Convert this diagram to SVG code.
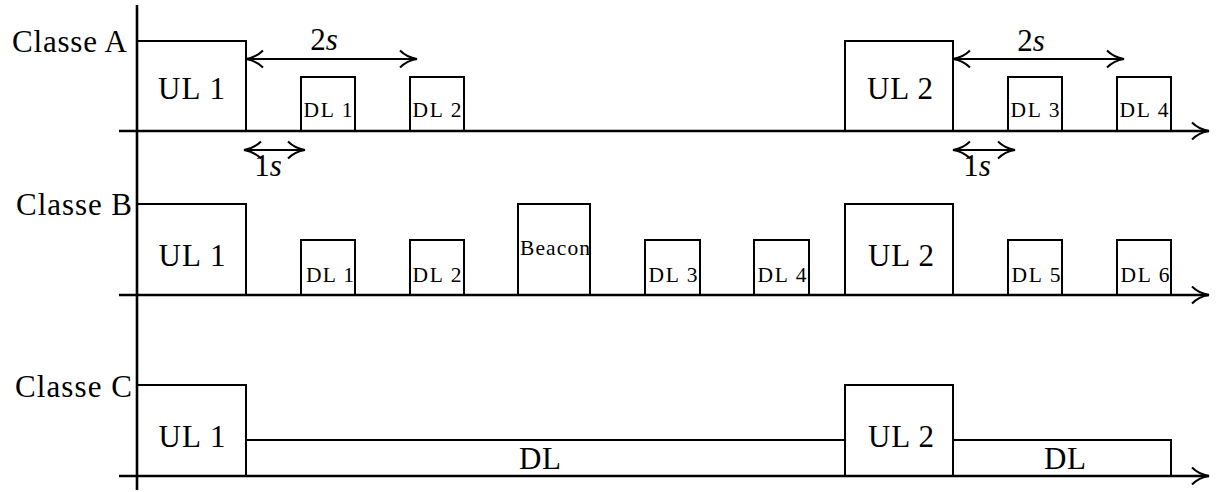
<svg xmlns="http://www.w3.org/2000/svg" width="1216" height="492" viewBox="0 0 1216 492">
  <defs>
    <style>
      text { font-family: 'Liberation Serif', 'Times New Roman', 'DejaVu Serif', serif; fill: #000; }
      .big { font-size: 31px; }
      .small { font-size: 21.5px; }
      .box { fill: none; stroke: #000; stroke-width: 2; }
      .axis { fill: none; stroke: #000; stroke-width: 2.6; }
      .dim { fill: none; stroke: #000; stroke-width: 2; }
    </style>
    <marker id="tip" viewBox="-20 -12 24 24" refX="0" refY="0" markerWidth="24" markerHeight="24"
            markerUnits="userSpaceOnUse" orient="auto-start-reverse" overflow="visible">
      <path d="M -17,-8.5 C -12,-3.5 -5,-0.8 0,0 C -5,0.8 -12,3.5 -17,8.5" fill="none" stroke="#000" stroke-width="2"/>
    </marker>
  </defs>

  <!-- time axes -->
  <g id="axes">
    <line class="axis" x1="137" y1="5" x2="137" y2="490" stroke-width="2.2"/>
    <line class="axis" x1="119" y1="131" x2="1209" y2="131" marker-end="url(#tip)"/>
    <line class="axis" x1="119" y1="295" x2="1209" y2="295" marker-end="url(#tip)"/>
    <line class="axis" x1="119" y1="476" x2="1209" y2="476" marker-end="url(#tip)"/>
  </g>

  <!-- row labels -->
  <g id="labels" font-family="Liberation Serif, serif">
    <text class="big" x="127" y="52" text-anchor="end" textLength="115">Classe A</text>
    <text class="big" x="132" y="215" text-anchor="end" textLength="116">Classe B</text>
    <text class="big" x="132" y="397" text-anchor="end" textLength="117">Classe C</text>
  </g>

  <!-- Classe A -->
  <g id="a-ul1"><rect class="box" x="137" y="41" width="109" height="90"/><text class="big" x="191.5" y="99" text-anchor="middle" textLength="67">UL 1</text></g>
  <g id="a-dl1"><rect class="box" x="301" y="77" width="54" height="54"/><text class="small" x="328" y="117" text-anchor="middle" textLength="49">DL 1</text></g>
  <g id="a-dl2"><rect class="box" x="410" y="77" width="54" height="54"/><text class="small" x="437" y="117" text-anchor="middle" textLength="49">DL 2</text></g>
  <g id="a-ul2"><rect class="box" x="845" y="41" width="108" height="90"/><text class="big" x="900" y="99" text-anchor="middle" textLength="66">UL 2</text></g>
  <g id="a-dl3"><rect class="box" x="1008" y="77" width="54" height="54"/><text class="small" x="1035" y="117" text-anchor="middle" textLength="49">DL 3</text></g>
  <g id="a-dl4"><rect class="box" x="1117" y="77" width="54" height="54"/><text class="small" x="1144" y="117" text-anchor="middle" textLength="49">DL 4</text></g>

  <!-- Classe B -->
  <g id="b-ul1"><rect class="box" x="137" y="204" width="109" height="91"/><text class="big" x="192" y="266" text-anchor="middle" textLength="67">UL 1</text></g>
  <g id="b-dl1"><rect class="box" x="301" y="240" width="54" height="55"/><text class="small" x="330" y="282" text-anchor="middle" textLength="48">DL 1</text></g>
  <g id="b-dl2"><rect class="box" x="410" y="240" width="54" height="55"/><text class="small" x="437" y="282" text-anchor="middle" textLength="49">DL 2</text></g>
  <g id="b-beacon"><rect class="box" x="518" y="204" width="72" height="91"/><text class="small" x="555" y="255" text-anchor="middle" textLength="70">Beacon</text></g>
  <g id="b-dl3"><rect class="box" x="645" y="240" width="55" height="55"/><text class="small" x="673" y="282" text-anchor="middle" textLength="49">DL 3</text></g>
  <g id="b-dl4"><rect class="box" x="754" y="240" width="55" height="55"/><text class="small" x="782" y="282" text-anchor="middle" textLength="49">DL 4</text></g>
  <g id="b-ul2"><rect class="box" x="845" y="204" width="108" height="91"/><text class="big" x="901" y="266" text-anchor="middle" textLength="66">UL 2</text></g>
  <g id="b-dl5"><rect class="box" x="1008" y="240" width="54" height="55"/><text class="small" x="1036" y="282" text-anchor="middle" textLength="49">DL 5</text></g>
  <g id="b-dl6"><rect class="box" x="1117" y="240" width="54" height="55"/><text class="small" x="1145" y="282" text-anchor="middle" textLength="49">DL 6</text></g>

  <!-- Classe C -->
  <g id="c-ul1"><rect class="box" x="137" y="385" width="109" height="91"/><text class="big" x="192" y="447" text-anchor="middle" textLength="67">UL 1</text></g>
  <g id="c-dl1"><polyline class="box" points="246,440 845,440"/><text class="big" x="540" y="469" text-anchor="middle" textLength="42">DL</text></g>
  <g id="c-ul2"><rect class="box" x="845" y="385" width="108" height="91"/><text class="big" x="901" y="447" text-anchor="middle" textLength="66">UL 2</text></g>
  <g id="c-dl2"><polyline class="box" points="953,440 1171,440 1171,476"/><text class="big" x="1065" y="469" text-anchor="middle" textLength="42">DL</text></g>

  <!-- receive-window delays -->
  <g id="connectors">
    <line class="dim" x1="246" y1="59" x2="417" y2="59" marker-start="url(#tip)" marker-end="url(#tip)"/>
    <line class="dim" x1="244" y1="150" x2="305" y2="150" marker-start="url(#tip)" marker-end="url(#tip)"/>
    <line class="dim" x1="953" y1="59" x2="1124" y2="59" marker-start="url(#tip)" marker-end="url(#tip)"/>
    <line class="dim" x1="953" y1="150" x2="1015" y2="150" marker-start="url(#tip)" marker-end="url(#tip)"/>
    <text class="big" x="324" y="50" text-anchor="middle">2<tspan font-style="italic">s</tspan></text>
    <text class="big" x="268" y="176" text-anchor="middle">1<tspan font-style="italic">s</tspan></text>
    <text class="big" x="1031" y="51" text-anchor="middle">2<tspan font-style="italic">s</tspan></text>
    <text class="big" x="977" y="176" text-anchor="middle">1<tspan font-style="italic">s</tspan></text>
  </g>
</svg>
